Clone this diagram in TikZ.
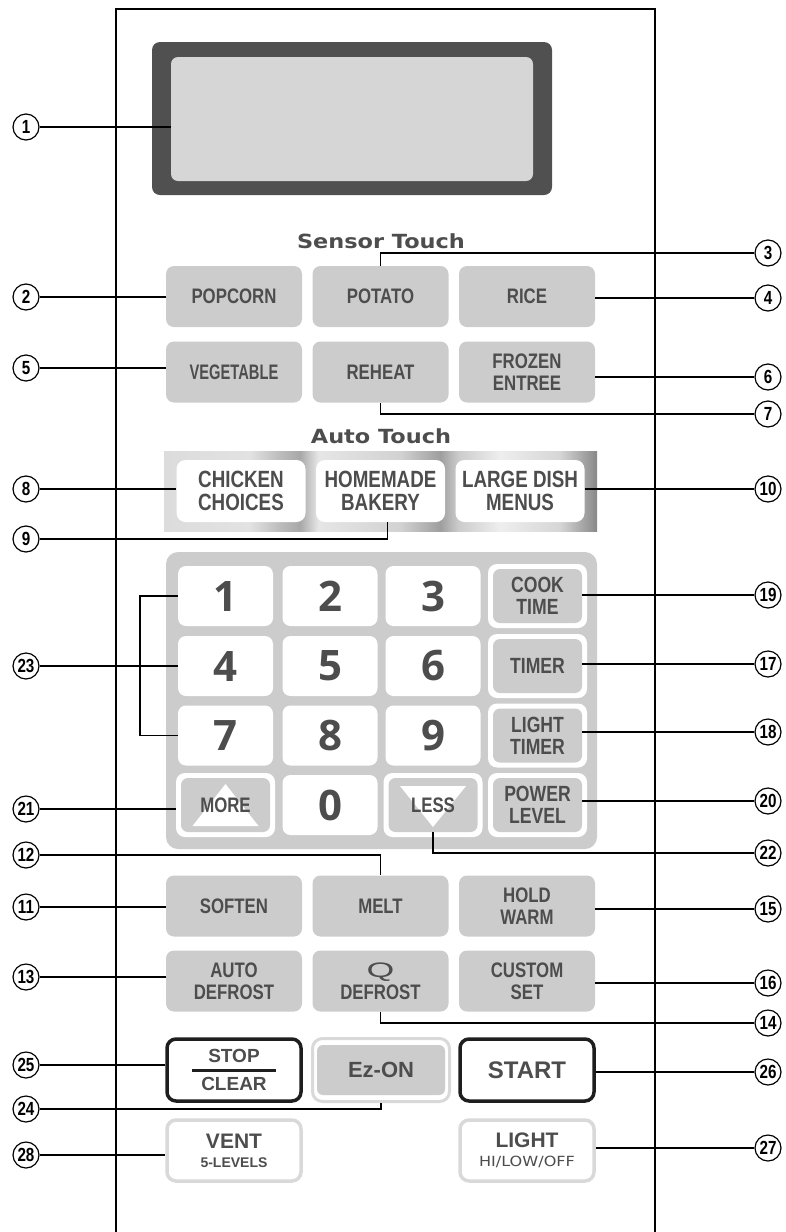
\documentclass[tikz,border=0pt]{standalone}
\usepackage{fontspec}
\setmainfont{Liberation Sans}
\newfontfamily\lblfont[FakeStretch=0.8]{Liberation Sans}
\newfontfamily\narrowfont[FakeStretch=0.7]{Liberation Sans}
\newfontfamily\headfont[FakeStretch=1.15]{DejaVu Sans}
\newfontfamily\digitfont{Open Sans}
\newfontfamily\qfont[FakeStretch=1.7]{Liberation Sans}

\definecolor{keygray}{HTML}{CCCCCC}
\definecolor{inkgray}{HTML}{4D4D4D}
\definecolor{dispdark}{HTML}{505050}
\definecolor{displight}{HTML}{D6D6D6}
\definecolor{rimgray}{HTML}{D9D9D9}
\definecolor{keyblack}{HTML}{1E1E1E}
\definecolor{metA}{HTML}{DCDCDC}
\definecolor{metB}{HTML}{E2E2E2}
\definecolor{metC}{HTML}{BCBCBC}
\definecolor{metD}{HTML}{A8A8A8}
\definecolor{metE}{HTML}{E6E6E6}
\definecolor{metF}{HTML}{D2D2D2}
\definecolor{metG}{HTML}{9E9E9E}
\definecolor{metH}{HTML}{CCCCCC}
\definecolor{metI}{HTML}{EEEEEE}
\definecolor{metJ}{HTML}{D6D6D6}
\definecolor{metK}{HTML}{888888}
\pgfdeclarehorizontalshading{metal}{100bp}{color(0bp)=(metA); color(25bp)=(metA); color(34.9bp)=(metB); color(38.4bp)=(metC); color(40.7bp)=(metD); color(42.8bp)=(metE); color(52.3bp)=(metF); color(56.9bp)=(metG); color(59bp)=(metH); color(63.8bp)=(metI); color(70.7bp)=(metJ); color(75bp)=(metK); color(100bp)=(metK)}

\tikzstyle{panelline} = [line width=2pt]
\tikzstyle{lead} = [line width=1.8pt]
\tikzstyle{callout} = [circle, draw, line width=1.2pt, minimum size=26pt, inner sep=0pt, fill=white, font=\lblfont\bfseries\fontsize{19}{19}\selectfont]
\tikzstyle{heading} = [text=inkgray, font=\headfont\bfseries\fontsize{19.5}{20}\selectfont]
\tikzstyle{softkey} = [rectangle, rounded corners=8pt, minimum width=136pt, minimum height=61pt, inner sep=0pt, fill=keygray, text=inkgray, align=center, font=\lblfont\bfseries\fontsize{21}{22}\selectfont]
\tikzstyle{autokey} = [rectangle, rounded corners=9pt, minimum width=129pt, minimum height=62pt, inner sep=0pt, fill=white, text=inkgray, align=center, font=\lblfont\bfseries\fontsize{23.5}{23}\selectfont]
\tikzstyle{numkey} = [rectangle, rounded corners=8pt, minimum width=95pt, minimum height=60pt, inner sep=0pt, fill=white, text=inkgray, font=\digitfont\bfseries\fontsize{42}{42}\selectfont]
\tikzstyle{rimkey} = [rectangle, rounded corners=9pt, minimum width=99pt, minimum height=64pt, inner sep=0pt, fill=white]
\tikzstyle{rimface} = [rectangle, rounded corners=7pt, minimum width=89pt, minimum height=54pt, inner sep=0pt, fill=keygray, text=inkgray, align=center, font=\lblfont\bfseries\fontsize{22}{22}\selectfont]
\tikzstyle{keytext} = [text=inkgray, font=\lblfont\bfseries\fontsize{21}{22}\selectfont]
\tikzstyle{boldkey} = [rectangle, rounded corners=9pt, minimum width=134pt, minimum height=62pt, inner sep=0pt, draw=keyblack, line width=3.5pt, fill=white, text=inkgray, align=center, font=\bfseries\fontsize{19}{22}\selectfont]
\tikzstyle{ventkey} = [rectangle, rounded corners=9pt, minimum width=134pt, minimum height=61pt, inner sep=0pt, draw=rimgray, line width=3.5pt, fill=white, text=inkgray, align=center, font=\bfseries\fontsize{21}{23}\selectfont]

\begin{document}
\begin{tikzpicture}[x=1pt,y=-1pt]
\useasboundingbox (0,0) rectangle (785,1232);

% front of the panel
\draw [panelline] (116,1232) -- (116,9) -- (655,9) -- (655,1232);

% display window
\node [rectangle, rounded corners=8pt, minimum width=400pt, minimum height=153pt, fill=dispdark] at (352,118.5) (bezel) {};
\node [rectangle, rounded corners=7pt, minimum width=362pt, minimum height=124pt, fill=displight] at (352,119) (screen) {};

% sensor touch pads
\node [heading] at (381,241) (sensorhead) {Sensor Touch};
\node [softkey] at (234,296.5) (popcorn) {POPCORN};
\node [softkey] at (380.5,296.5) (potato) {POTATO};
\node [softkey] at (527,296.5) (rice) {RICE};
\node [softkey, font=\narrowfont\bfseries\fontsize{21}{22}\selectfont] at (234,372) (vegetable) {VEGETABLE};
\node [softkey] at (380.5,372) (reheat) {REHEAT};
\node [softkey] at (527,372) (frozen) {FROZEN\\ENTREE};

% auto touch pads
\node [heading] at (381,436) (autohead) {Auto Touch};
\node [rectangle, minimum width=433pt, minimum height=80pt, shading=metal] at (380.5,491) (autoband) {};
\node [autokey] at (241,491) (chicken) {CHICKEN\\CHOICES};
\node [autokey] at (380.5,491) (bakery) {HOMEMADE\\BAKERY};
\node [autokey] at (520,491) (largedish) {LARGE DISH\\MENUS};

% number pad
\node [rectangle, rounded corners=12pt, minimum width=431pt, minimum height=297pt, fill=keygray] at (381.5,700.5) (keypad) {};
\node [numkey] at (225.5,596) (k1) {1};
\node [numkey] at (330,596) (k2) {2};
\node [numkey] at (433,596) (k3) {3};
\node [numkey] at (225.5,666) (k4) {4};
\node [numkey] at (330,666) (k5) {5};
\node [numkey] at (433,666) (k6) {6};
\node [numkey] at (225.5,735.5) (k7) {7};
\node [numkey] at (330,735.5) (k8) {8};
\node [numkey] at (433,735.5) (k9) {9};
\node [numkey] at (330,805) (k0) {0};

\node [rimkey] at (537.5,596) (cooktime) {};
\node [rimface] at (537.5,596) (cookface) {COOK\\TIME};
\node [rimkey] at (537.5,666) (timer) {};
\node [rimface] at (537.5,666) (timerface) {TIMER};
\node [rimkey] at (537.5,735.5) (lighttimer) {};
\node [rimface] at (537.5,735.5) (lightface) {LIGHT\\TIMER};
\node [rimkey] at (537.5,805) (power) {};
\node [rimface] at (537.5,805) (powerface) {POWER\\LEVEL};

\node [rimkey] at (225.5,805) (more) {};
\node [rimface] at (225.5,805) (moreface) {};
\fill [white] ([shift={(-33,21)}]moreface.center) -- ([shift={(0,-21)}]moreface.center) -- ([shift={(33,21)}]moreface.center) -- cycle;
\node [keytext] at (moreface) (moretext) {MORE};
\node [rimkey] at (433,805) (less) {};
\node [rimface] at (433,805) (lessface) {};
\fill [white] ([shift={(-33,-19)}]lessface.center) -- ([shift={(33,-19)}]lessface.center) -- ([shift={(0,22)}]lessface.center) -- cycle;
\node [keytext] at (lessface) (lesstext) {LESS};

% lower pads
\node [softkey] at (234,906) (soften) {SOFTEN};
\node [softkey] at (380.5,906) (melt) {MELT};
\node [softkey] at (527,906) (holdwarm) {HOLD\\WARM};
\node [softkey] at (234,981) (autodefrost) {AUTO\\DEFROST};
\node [softkey] at (380.5,981) (qdefrost) {{\qfont\mdseries Q}\\DEFROST};
\node [softkey] at (527,981) (customset) {CUSTOM\\SET};

\node [boldkey] at (234,1070) (stopclear) {STOP\\[6pt]CLEAR};
\draw [line width=3pt, keyblack] ([xshift=-42pt]stopclear.center) -- ([xshift=42pt]stopclear.center);
\node [rectangle, rounded corners=10pt, minimum width=137pt, minimum height=63pt, draw=rimgray, line width=3pt, fill=white] at (381,1070) (ezon) {};
\node [rectangle, rounded corners=6pt, minimum width=128pt, minimum height=50pt, fill=keygray, text=inkgray, font=\bfseries\fontsize{22}{22}\selectfont] at (381,1070) (ezonface) {Ez-ON};
\node [boldkey, font=\bfseries\fontsize{24}{24}\selectfont] at (527,1070) (start) {START};
\node [ventkey] at (234,1150.5) (vent) {VENT\\[-4pt]{\fontsize{14}{16}\selectfont 5-LEVELS}};
\node [ventkey] at (527,1150.5) (light) {LIGHT\\[-4pt]{\headfont\mdseries\fontsize{14}{16}\selectfont HI/LOW/OFF}};

% callouts, left side
\node [callout] at (26,127) (c1) {1};
\node [callout] at (26,297) (c2) {2};
\node [callout] at (26,368) (c5) {5};
\node [callout] at (26,489) (c8) {8};
\node [callout] at (26,539) (c9) {9};
\node [callout] at (26,666) (c23) {23};
\node [callout] at (26,809) (c21) {21};
\node [callout] at (26,855) (c12) {12};
\node [callout] at (26,907) (c11) {11};
\node [callout] at (26,977) (c13) {13};
\node [callout] at (26,1065) (c25) {25};
\node [callout] at (26,1109) (c24) {24};
\node [callout] at (26,1155) (c28) {28};

% callouts, right side
\node [callout] at (768,253) (c3) {3};
\node [callout] at (768,298) (c4) {4};
\node [callout] at (768,377) (c6) {6};
\node [callout] at (768,414) (c7) {7};
\node [callout] at (768,489) (c10) {10};
\node [callout] at (768,595) (c19) {19};
\node [callout] at (768,664) (c17) {17};
\node [callout] at (768,732) (c18) {18};
\node [callout] at (768,801) (c20) {20};
\node [callout] at (768,853) (c22) {22};
\node [callout] at (768,909) (c15) {15};
\node [callout] at (768,983) (c16) {16};
\node [callout] at (768,1023) (c14) {14};
\node [callout] at (768,1072) (c26) {26};
\node [callout] at (768,1148) (c27) {27};

\draw [lead] (c1) -- (c1 -| screen.west);
\draw [lead] (c2) -- (c2 -| popcorn.west);
\draw [lead] (potato.north) |- (c3);
\draw [lead] (c4 -| rice.east) -- (c4);
\draw [lead] (c5) -- (c5 -| vegetable.west);
\draw [lead] (c6 -| frozen.east) -- (c6);
\draw [lead] (reheat.south) |- (c7);
\draw [lead] (c8) -- (c8 -| chicken.west);
\draw [lead] ([xshift=7pt]bakery.south) |- (c9);
\draw [lead] (c10 -| largedish.east) -- (c10);
\draw [lead] (c23) -- (k4.west);
\draw [lead] (k1.west) -- ++(-38,0) |- (k7.west);
\draw [lead] (c19 -| cookface.east) -- (c19);
\draw [lead] (c17 -| timerface.east) -- (c17);
\draw [lead] (c18 -| lightface.east) -- (c18);
\draw [lead] (c20 -| powerface.east) -- (c20);
\draw [lead] (c21) -- (c21 -| more.west);
\draw [lead] (lessface.south) |- (c22);
\draw [lead] (c12) -| (melt.north);
\draw [lead] (c11) -- (c11 -| soften.west);
\draw [lead] (c15 -| holdwarm.east) -- (c15);
\draw [lead] (c13) -- (c13 -| autodefrost.west);
\draw [lead] (c16 -| customset.east) -- (c16);
\draw [lead] (qdefrost.south) |- (c14);
\draw [lead] (c25) -- (c25 -| stopclear.west);
\draw [lead] (c26 -| start.east) -- (c26);
\draw [lead] (ezon.south) |- (c24);
\draw [lead] (c28) -- (c28 -| vent.west);
\draw [lead] (c27 -| light.east) -- (c27);
\end{tikzpicture}
\end{document}
